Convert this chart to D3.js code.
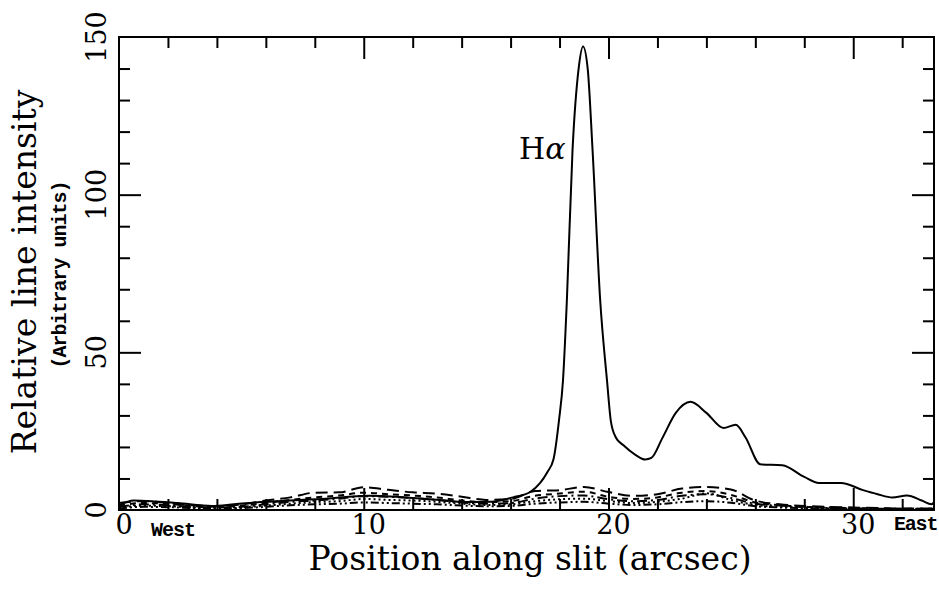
<!DOCTYPE html>
<html>
<head>
<meta charset="utf-8">
<script src="https://cdn.jsdelivr.net/npm/d3@7/dist/d3.min.js"></script>
<style>
  html, body { margin: 0; padding: 0; background: #fff; }
  svg { display: block; }
</style>
</head>
<body>
<svg id="chart" width="939" height="590"></svg>
<script>
// Hα profile along the slit (position in arcsec, relative intensity)
const haPos = [0, 0.6, 1.5, 2.4, 3.8, 4.7, 5.8, 7, 8.3, 10.2, 11.7, 13.1, 14.1, 15.2, 16.1, 16.8, 17.2, 17.5, 17.75, 17.98, 18.14, 18.3, 18.53, 18.78, 18.96, 19.15, 19.35, 19.66, 19.94, 20.1, 20.3, 20.6, 21.1, 21.5, 21.75, 22.2, 22.75, 23.35, 24.0, 24.7, 25.2, 25.6, 26.2, 27.1, 28.0, 28.6, 29.5, 30.4, 31.0, 31.6, 32.2, 32.8, 33.2, 33.3];
const haVal = [1.5, 3.0, 2.7, 2.2, 1.3, 1.8, 2.5, 3.0, 3.5, 4.5, 4.0, 3.2, 2.5, 2.6, 4.0, 5.7, 8.5, 12, 16, 28.6, 41, 66.6, 114, 140, 147, 140, 114, 66.6, 41, 28, 23, 20.6, 17.5, 16, 16.5, 22.8, 30.8, 34.3, 30.8, 26, 27, 23, 14.5, 14.2, 10.5, 8.6, 8.6, 6.3, 5.0, 4.0, 4.6, 3.0, 1.8, 2.5];

// Fainter lines, sampled on a common position grid
const faintPos = [0, 1, 2, 3, 4, 5, 6, 7, 8, 9, 10, 11, 12, 13, 14, 15, 16, 17, 18, 19, 20, 21, 22, 23, 24, 25, 26, 27, 28, 29, 30, 31, 32, 33.3];
const nii6583 = [2.2, 2.8, 2.2, 1.5, 1.2, 1.8, 3.0, 4.0, 5.5, 5.6, 7.2, 6.4, 5.6, 5.2, 4.2, 3.2, 3.5, 6.0, 6.3, 7.3, 5.7, 4.5, 5.0, 6.8, 7.3, 6.5, 3.0, 1.8, 1.3, 1.0, 0.8, 0.6, 0.5, 0.5];
const sii6716 = [1.5, 2.2, 2.0, 1.2, 1.0, 1.4, 2.2, 3.2, 4.0, 4.6, 5.5, 5.0, 4.6, 4.0, 3.0, 2.5, 2.8, 4.5, 5.2, 5.8, 4.2, 3.5, 4.0, 5.5, 6.0, 4.8, 2.4, 1.5, 1.0, 0.8, 0.6, 0.5, 0.4, 0.4];
const sii6731 = [1.0, 1.8, 1.5, 1.0, 0.8, 1.0, 1.8, 2.6, 3.0, 3.6, 4.4, 4.2, 3.8, 3.2, 2.4, 2.0, 2.2, 3.6, 4.4, 4.6, 3.4, 2.8, 3.2, 4.5, 5.0, 3.8, 2.0, 1.4, 1.0, 0.7, 0.5, 0.4, 0.4, 0.3];
const nii6548 = [0.8, 1.4, 1.2, 0.8, 0.6, 0.8, 1.4, 2.0, 2.5, 2.8, 3.5, 3.2, 3.0, 2.6, 2.0, 1.6, 1.8, 2.8, 3.4, 3.6, 2.8, 2.2, 2.6, 3.6, 5.3, 3.2, 1.6, 1.0, 0.8, 0.6, 0.4, 0.3, 0.3, 0.3];
const oi6300 = [0.5, 1.0, 0.9, 0.6, 0.5, 0.6, 1.0, 1.5, 1.8, 2.0, 2.4, 2.2, 2.0, 1.8, 1.4, 1.2, 1.3, 2.0, 2.4, 2.6, 2.0, 1.6, 1.8, 2.5, 2.8, 2.3, 1.2, 0.8, 0.6, 0.5, 0.3, 0.3, 0.2, 0.2];

// Axis ticks and labels
const xMajor = [0, 10, 20, 30];
const xMinor = [2, 4, 6, 8, 12, 14, 16, 18, 22, 24, 26, 28, 32];
const yMajor = [0, 50, 100, 150];
const yMinor = [10, 20, 30, 40, 60, 70, 80, 90, 110, 120, 130, 140];

const W = 939, H = 590;
const m = { left: 119, top: 37, right: 5, bottom: 80 };
const pw = W - m.left - m.right, ph = H - m.top - m.bottom;

const svg = d3.select("#chart");
const g = svg.append("g").attr("transform", `translate(${m.left},${m.top})`);

const x = d3.scaleLinear().domain([0, 33.3]).range([0, pw]);
const y = d3.scaleLinear().domain([0, 150]).range([ph, 0]);

const serif = "'DejaVu Serif', 'Liberation Serif', serif";
const mono = "'Liberation Mono', 'DejaVu Sans Mono', monospace";

// Inward ticks on all four sides
function ticks(axisFn, scale, vals, size, tx) {
  const a = axisFn(scale).tickValues(vals).tickSize(size).tickSizeOuter(0).tickFormat("");
  const sel = g.append("g").attr("transform", tx).call(a);
  sel.select(".domain").remove();
  sel.selectAll("line").attr("stroke", "#000").attr("stroke-width", 2);
}
const majorLen = 22, minorLen = 11;
ticks(d3.axisBottom, x, xMajor.slice(1), -majorLen, `translate(0,${ph})`);
ticks(d3.axisBottom, x, xMinor, -minorLen, `translate(0,${ph})`);
ticks(d3.axisTop, x, xMajor.slice(1), -majorLen, `translate(0,0)`);
ticks(d3.axisTop, x, xMinor, -minorLen, `translate(0,0)`);
ticks(d3.axisLeft, y, yMajor.slice(1, 3), -majorLen, `translate(0,0)`);
ticks(d3.axisLeft, y, yMinor, -minorLen, `translate(0,0)`);
ticks(d3.axisRight, y, yMajor.slice(1, 3), -majorLen, `translate(${pw},0)`);
ticks(d3.axisRight, y, yMinor, -minorLen, `translate(${pw},0)`);

// Profiles
g.append("clipPath").attr("id", "plot-clip")
  .append("rect").attr("x", 0).attr("y", 0).attr("width", pw).attr("height", ph);

const line = d3.line().x(d => x(d[0])).y(d => y(d[1])).curve(d3.curveMonotoneX);
const plot = g.append("g").attr("clip-path", "url(#plot-clip)");

const faint = [
  { vals: nii6583, dash: "12,6" },
  { vals: sii6716, dash: "6,5" },
  { vals: sii6731, dash: "10,4,2,4" },
  { vals: nii6548, dash: "2,3" },
  { vals: oi6300, dash: "8,3,2,3,2,3" }
];
faint.forEach(s => {
  plot.append("path")
    .datum(faintPos.map((p, i) => [p, s.vals[i]]))
    .attr("d", line)
    .attr("fill", "none")
    .attr("stroke", "#000")
    .attr("stroke-width", 2)
    .attr("stroke-dasharray", s.dash);
});

plot.append("path")
  .datum(haPos.map((p, i) => [p, haVal[i]]))
  .attr("d", line)
  .attr("fill", "none")
  .attr("stroke", "#000")
  .attr("stroke-width", 2);

// Frame
g.append("rect").attr("x", 0).attr("y", 0).attr("width", pw).attr("height", ph)
  .attr("fill", "none").attr("stroke", "#000").attr("stroke-width", 2);

// Tick labels
g.selectAll(".xlab").data(xMajor).enter().append("text")
  .attr("x", d => x(d) + 5).attr("y", ph + 24)
  .attr("text-anchor", "middle")
  .attr("font-family", serif).attr("font-size", 27)
  .text(d => d);

g.selectAll(".ylab").data(yMajor).enter().append("text")
  .attr("transform", d => `translate(-13,${y(d)}) rotate(-90)`)
  .attr("text-anchor", "middle")
  .attr("font-family", serif).attr("font-size", 27)
  .text(d => d);

// Direction markers
svg.append("text").attr("x", 151).attr("y", 536)
  .attr("font-family", mono).attr("font-weight", "bold").attr("font-size", 20)
  .attr("letter-spacing", -1)
  .text("West");
svg.append("text").attr("x", 894).attr("y", 530)
  .attr("font-family", mono).attr("font-weight", "bold").attr("font-size", 20)
  .attr("letter-spacing", -1.2)
  .text("East");

// Axis titles
svg.append("text").attr("x", 530).attr("y", 570)
  .attr("text-anchor", "middle")
  .attr("font-family", serif).attr("font-size", 33)
  .text("Position along slit (arcsec)");
svg.append("text").attr("transform", "translate(36,272) rotate(-90)")
  .attr("text-anchor", "middle")
  .attr("font-family", serif).attr("font-size", 33)
  .text("Relative line intensity");
svg.append("text").attr("transform", "translate(66,275) rotate(-90)")
  .attr("text-anchor", "middle")
  .attr("font-family", mono).attr("font-weight", "bold").attr("font-size", 20)
  .attr("letter-spacing", -1)
  .text("(Arbitrary units)");

// Line label
const lab = svg.append("text").attr("x", 519).attr("y", 159)
  .attr("font-family", serif).attr("font-size", 30);
lab.append("tspan").text("H");
lab.append("tspan").attr("font-style", "italic").text("α");
</script>
</body>
</html>
